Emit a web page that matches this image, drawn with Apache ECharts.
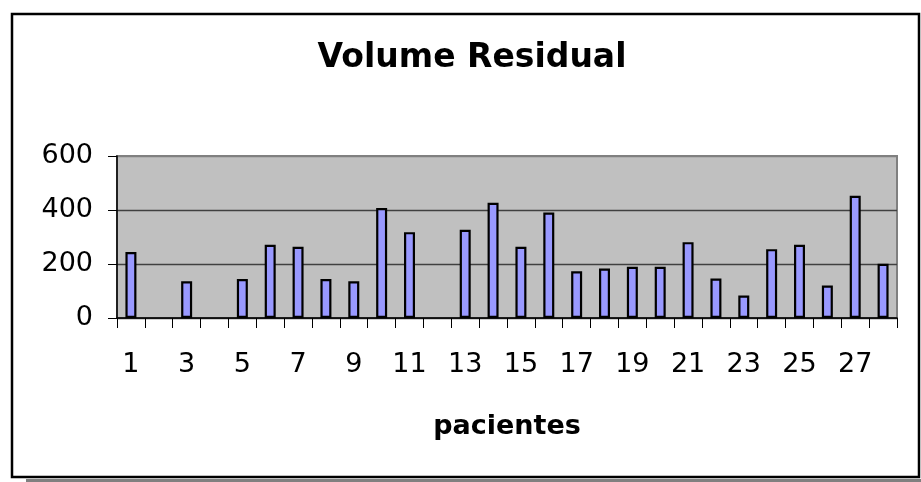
<!DOCTYPE html>
<html>
<head>
<meta charset="utf-8">
<script src="https://cdn.jsdelivr.net/npm/echarts@6/dist/echarts.min.js"></script>
<style>
  html, body { margin: 0; padding: 0; background: #ffffff; }
  #chart { width: 921px; height: 482px; }
</style>
</head>
<body>
<div id="chart"></div>
<script>
// Patient numbers along the x axis
const patients = ['1','2','3','4','5','6','7','8','9','10','11','12','13','14',
                  '15','16','17','18','19','20','21','22','23','24','25','26','27','28'];
// Residual volume per patient (null = no measurement)
const residualVolume = [244, null, 136, null, 144, 271, 264, 144, 136, 407, 318, null, 327, 427,
                        264, 391, 173, 183, 190, 190, 281, 146, 83, 255, 271, 120, 453, 201];
// Value axis ticks
const yTicks = [0, 200, 400, 600];

const chart = echarts.init(document.getElementById('chart'), null, { renderer: 'canvas' });
const FONT = '"DejaVu Sans", Verdana, sans-serif';

chart.setOption({
  animation: false,
  backgroundColor: '#ffffff',
  graphic: [
    // drop shadow under the outer frame
    { type: 'rect', shape: { x: 26, y: 479, width: 895, height: 3 },
      style: { fill: '#808080' }, z: -1 },
    // outer chart frame
    { type: 'rect', shape: { x: 12, y: 14, width: 907, height: 463 },
      style: { fill: 'none', stroke: '#000000', lineWidth: 2.5 }, z: 100 }
  ],
  title: {
    text: 'Volume Residual',
    left: 467, top: 37, textAlign: 'center',
    textStyle: { fontFamily: FONT, fontSize: 33, fontWeight: 'bold', color: '#000' }
  },
  grid: {
    left: 117, right: 24, top: 156, bottom: 164,
    show: true, backgroundColor: '#C0C0C0',
    borderColor: '#808080', borderWidth: 2
  },
  xAxis: {
    type: 'category',
    data: patients,
    name: 'pacientes',
    nameLocation: 'middle',
    nameGap: 95,
    nameTextStyle: { fontFamily: FONT, fontSize: 27, fontWeight: 'bold', color: '#000' },
    axisLine: { show: true, lineStyle: { color: '#000', width: 1.5 } },
    axisTick: { show: true, alignWithLabel: false, interval: 0, length: 10,
                lineStyle: { color: '#000', width: 1 } },
    axisLabel: { interval: 1, margin: 33, fontFamily: FONT, fontSize: 27, color: '#000' },
    splitLine: { show: false }
  },
  yAxis: {
    type: 'value',
    min: yTicks[0], max: yTicks[yTicks.length - 1], interval: yTicks[1] - yTicks[0],
    axisLine: { show: true, lineStyle: { color: '#000', width: 1.5 } },
    axisTick: { show: true, length: 9, lineStyle: { color: '#000', width: 1 } },
    axisLabel: { margin: 24, fontFamily: FONT, fontSize: 27, color: '#000' },
    splitLine: { show: true, lineStyle: { color: ['#404040', '#404040', '#404040', '#808080'], width: 1.3 } }
  },
  series: [{
    type: 'bar',
    data: residualVolume,
    barWidth: 11,
    itemStyle: { color: '#9999FF', borderColor: '#000000', borderWidth: 2.2 }
  }]
});
</script>
</body>
</html>
